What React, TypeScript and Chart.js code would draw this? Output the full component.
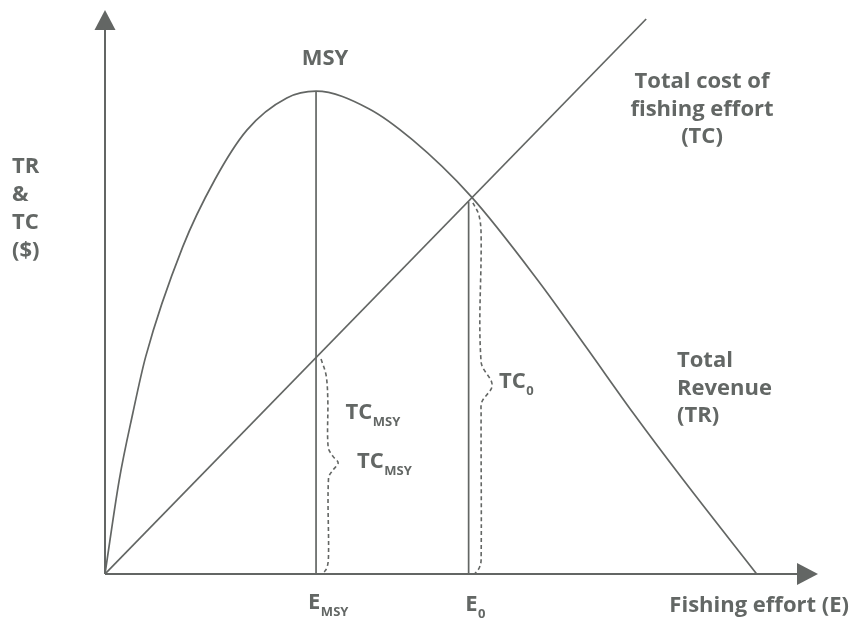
import React, { useEffect, useRef } from "react";
import { Chart, registerables } from "chart.js";

Chart.register(...registerables);

// ---- Data (effort units 0..100, money units 0..100) ----
const trEffort = [0, 2.0, 3.9, 5.7, 10.9, 15.4, 19.9, 25.5, 29.6, 37.0, 43.1, 51.3, 60.7, 67.5, 74.1, 81.1, 91.4];
const trRevenue = [0, 16.7, 28.5, 38.5, 58.0, 69.9, 78.7, 84.4, 85.6, 82.5, 77.0, 67.0, 52.1, 40.2, 28.5, 16.7, 0];

const tcEffort = [0, 75.9];
const tcCost = [0, 98.4];

const eMsy = 29.6;
const msyRevenue = 85.6;
const eZero = 51.0;
const tcZero = 66.0;

const braceMsyEffort = [30.3, 31.0, 31.25, 31.3, 31.95, 32.7, 31.95, 31.35, 31.35, 31.15, 30.6];
const braceMsyCost = [38.1, 35.3, 30.9, 22.5, 20.9, 19.7, 18.4, 17.0, 3.4, 1.2, 0.1];

const braceZeroEffort = [51.6, 52.45, 52.75, 52.75, 54.3, 52.85, 52.75, 52.75, 52.5, 51.9];
const braceZeroCost = [65.8, 63.6, 60.1, 37.6, 33.5, 30.5, 28.7, 2.5, 1.1, 0.1];

const yAxisTitle = ["TR", "&", "TC", "($)"];
const xAxisTitle = "Fishing effort (E)";
const tcLabel = ["Total cost of", "fishing effort", "(TC)"];
const trLabel = ["Total", "Revenue", "(TR)"];
const msyLabel = "MSY";
const tickMain = ["E", "E"];
const tickSub = ["MSY", "0"];
const tcMsyMain = "TC";
const tcMsySub = "MSY";
const tcZeroSub = "0";

const INK = "#636664";
const TEXT = "#636765";
const FONT = "'Open Sans', 'DejaVu Sans', sans-serif";

const pts = (xs: number[], ys: number[]) => xs.map((x, i) => ({ x, y: ys[i] }));

const diagramPlugin = {
  id: "diagram",
  beforeDatasetsDraw(chart: any) {
    const { ctx } = chart;
    const xs = chart.scales.x;
    const ys = chart.scales.y;
    const x0 = xs.getPixelForValue(0);
    const y0 = ys.getPixelForValue(0);
    const xEnd = xs.getPixelForValue(100);
    const yEnd = ys.getPixelForValue(100);
    ctx.save();
    ctx.strokeStyle = INK;
    ctx.fillStyle = INK;
    ctx.lineWidth = 2;
    ctx.beginPath();
    ctx.moveTo(x0, y0);
    ctx.lineTo(xEnd - 18, y0);
    ctx.stroke();
    ctx.beginPath();
    ctx.moveTo(x0, y0);
    ctx.lineTo(x0, yEnd + 18);
    ctx.stroke();
    ctx.beginPath();
    ctx.moveTo(xEnd, y0);
    ctx.lineTo(xEnd - 21, y0 - 11);
    ctx.lineTo(xEnd - 21, y0 + 11);
    ctx.closePath();
    ctx.fill();
    ctx.beginPath();
    ctx.moveTo(x0, yEnd);
    ctx.lineTo(x0 - 10.5, yEnd + 20);
    ctx.lineTo(x0 + 10.5, yEnd + 20);
    ctx.closePath();
    ctx.fill();
    ctx.restore();
  },
  afterDraw(chart: any) {
    const { ctx } = chart;
    const xs = chart.scales.x;
    const ys = chart.scales.y;
    const X = (v: number) => xs.getPixelForValue(v);
    const Y = (v: number) => ys.getPixelForValue(v);
    ctx.save();
    ctx.fillStyle = TEXT;
    ctx.textBaseline = "alphabetic";
    const big = `bold 22px ${FONT}`;
    const small = `bold 13px ${FONT}`;

    const withSub = (main: string, sub: string, left: number, base: number) => {
      ctx.font = big;
      ctx.textAlign = "left";
      ctx.fillText(main, left, base);
      const w = ctx.measureText(main).width;
      ctx.font = small;
      ctx.fillText(sub, left + w + 0.5, base + 7);
    };

    // MSY above the peak
    ctx.font = big;
    ctx.textAlign = "center";
    ctx.fillText(msyLabel, X(eMsy) + 9, Y(msyRevenue) - 26);

    // TC label (centered)
    tcLabel.forEach((t, i) => ctx.fillText(t, 702, 88 + i * 27.5));

    // Y axis title
    ctx.textAlign = "left";
    yAxisTitle.forEach((t, i) => ctx.fillText(t, 12, 173 + i * 28));

    // TR label
    trLabel.forEach((t, i) => ctx.fillText(t, 677, 367 + i * 27.5));

    // X axis title
    ctx.textAlign = "right";
    ctx.fillText(xAxisTitle, 849, 612);

    // tick labels
    withSub(tickMain[0], tickSub[0], X(eMsy) - 8, 609);
    withSub(tickMain[1], tickSub[1], X(eZero) - 3.5, 611);

    // brace labels
    withSub(tcMsyMain, tcMsySub, 345.5, 419);
    withSub(tcMsyMain, tcMsySub, 357, 468);
    withSub(tcMsyMain, tcZeroSub, 499, 388);

    ctx.restore();
  },
};

export default function App() {
  const ref = useRef<HTMLCanvasElement | null>(null);
  useEffect(() => {
    if (!ref.current) return;
    const solid = (data: any[], extra: any = {}) => ({
      data,
      showLine: true,
      borderColor: INK,
      borderWidth: 1.7,
      pointRadius: 0,
      fill: false,
      ...extra,
    });
    const chart = new Chart(ref.current, {
      type: "scatter",
      data: {
        datasets: [
          solid(pts(trEffort, trRevenue), { label: "Total Revenue (TR)", cubicInterpolationMode: "monotone" }),
          solid(pts(tcEffort, tcCost), { label: "Total cost (TC)" }),
          solid(pts([eMsy, eMsy], [0, msyRevenue]), { label: "E_MSY" }),
          solid(pts([eZero, eZero], [0, tcZero]), { label: "E_0" }),
          solid(pts(braceMsyEffort, braceMsyCost), { label: "TC_MSY brace", borderDash: [4, 3], borderWidth: 1.6, tension: 0.35 }),
          solid(pts(braceZeroEffort, braceZeroCost), { label: "TC_0 brace", borderDash: [4, 3], borderWidth: 1.6, tension: 0.35 }),
        ],
      },
      options: {
        responsive: false,
        animation: false,
        devicePixelRatio: 1,
        layout: { padding: { left: 105, right: 33, top: 10, bottom: 49 } },
        plugins: { legend: { display: false }, tooltip: { enabled: false } },
        scales: {
          x: { type: "linear", min: 0, max: 100, display: false },
          y: { type: "linear", min: 0, max: 100, display: false },
        },
      },
      plugins: [diagramPlugin],
    });
    return () => chart.destroy();
  }, []);
  return (
    <div style={{ position: "absolute", left: 0, top: 0, width: 851, height: 623, background: "#fff" }}>
      <canvas ref={ref} width={851} height={623} />
    </div>
  );
}
